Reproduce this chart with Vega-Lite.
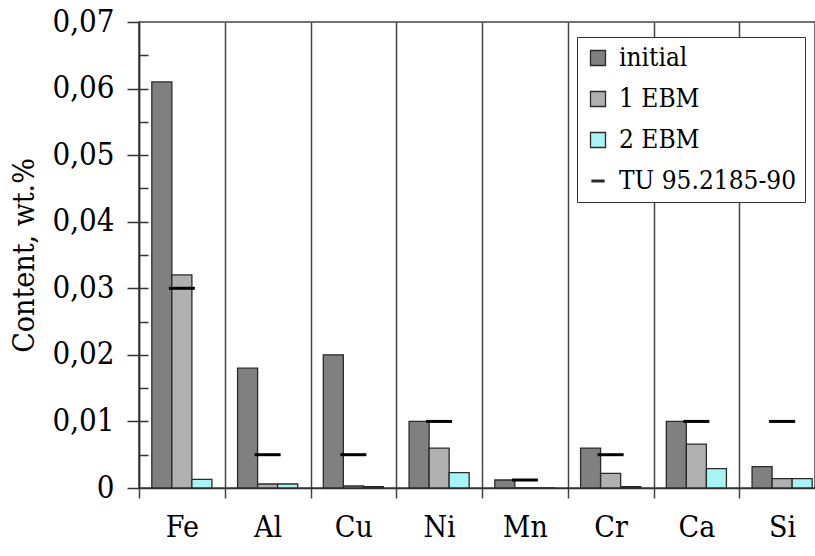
{
  "$schema": "https://vega.github.io/schema/vega-lite/v6.json",
  "width": 676,
  "height": 466,
  "autosize": {"type": "none"},
  "padding": {"left": 139, "top": 22, "right": 0, "bottom": 68},
  "background": "white",
  "config": {
    "view": {"stroke": "#444", "strokeWidth": 1.5},
    "axis": {"labelFont": "DejaVu Serif Condensed", "titleFont": "DejaVu Serif Condensed"},
    "legend": {"labelFont": "DejaVu Serif Condensed", "labelLimit": 400}
  },
  "datasets": {
    "bars": [
      {"element": "Fe", "series": "initial", "value": 0.061},
      {"element": "Fe", "series": "1 EBM", "value": 0.032},
      {"element": "Fe", "series": "2 EBM", "value": 0.0013},
      {"element": "Al", "series": "initial", "value": 0.018},
      {"element": "Al", "series": "1 EBM", "value": 0.0006},
      {"element": "Al", "series": "2 EBM", "value": 0.0006},
      {"element": "Cu", "series": "initial", "value": 0.020},
      {"element": "Cu", "series": "1 EBM", "value": 0.0003},
      {"element": "Cu", "series": "2 EBM", "value": 0.0002},
      {"element": "Ni", "series": "initial", "value": 0.010},
      {"element": "Ni", "series": "1 EBM", "value": 0.006},
      {"element": "Ni", "series": "2 EBM", "value": 0.0023},
      {"element": "Mn", "series": "initial", "value": 0.0012},
      {"element": "Mn", "series": "1 EBM", "value": 0},
      {"element": "Mn", "series": "2 EBM", "value": 0},
      {"element": "Cr", "series": "initial", "value": 0.006},
      {"element": "Cr", "series": "1 EBM", "value": 0.0022},
      {"element": "Cr", "series": "2 EBM", "value": 0.0002},
      {"element": "Ca", "series": "initial", "value": 0.010},
      {"element": "Ca", "series": "1 EBM", "value": 0.0066},
      {"element": "Ca", "series": "2 EBM", "value": 0.0029},
      {"element": "Si", "series": "initial", "value": 0.0032},
      {"element": "Si", "series": "1 EBM", "value": 0.0014},
      {"element": "Si", "series": "2 EBM", "value": 0.0014}
    ],
    "tu": [
      {"element": "Fe", "series": "TU 95.2185-90", "pos": "1 EBM", "value": 0.030},
      {"element": "Al", "series": "TU 95.2185-90", "pos": "1 EBM", "value": 0.005},
      {"element": "Cu", "series": "TU 95.2185-90", "pos": "1 EBM", "value": 0.005},
      {"element": "Ni", "series": "TU 95.2185-90", "pos": "1 EBM", "value": 0.010},
      {"element": "Mn", "series": "TU 95.2185-90", "pos": "1 EBM", "value": 0.0012},
      {"element": "Cr", "series": "TU 95.2185-90", "pos": "1 EBM", "value": 0.005},
      {"element": "Ca", "series": "TU 95.2185-90", "pos": "1 EBM", "value": 0.010},
      {"element": "Si", "series": "TU 95.2185-90", "pos": "1 EBM", "value": 0.010}
    ]
  },
  "layer": [
    {
      "data": {"name": "bars"},
      "mark": {"type": "bar", "stroke": "#2a2a2a", "strokeWidth": 1.3},
      "encoding": {
        "x": {
          "field": "element",
          "type": "nominal",
          "sort": null,
          "scale": {
            "domain": ["Fe", "Al", "Cu", "Ni", "Mn", "Cr", "Ca", "Si"],
            "range": [0, 686],
            "paddingInner": 0,
            "paddingOuter": 0
          },
          "axis": {
            "title": null,
            "tickBand": "extent",
            "tickSize": 10,
            "tickWidth": 1.5,
            "tickColor": "#444",
            "grid": true,
            "gridColor": "#444",
            "gridWidth": 1.5,
            "domainColor": "#333",
            "domainWidth": 1.5,
            "labelAngle": 0,
            "labelFontSize": 30,
            "labelColor": "black",
            "labelPadding": 14
          }
        },
        "xOffset": {
          "field": "series",
          "type": "nominal",
          "scale": {"domain": ["initial", "1 EBM", "2 EBM"], "paddingOuter": 0.64, "paddingInner": 0}
        },
        "y": {
          "field": "value",
          "type": "quantitative",
          "scale": {"domain": [0, 0.07], "nice": false},
          "axis": {
            "values": [0, 0.01, 0.02, 0.03, 0.04, 0.05, 0.06, 0.07],
            "labelExpr": "datum.value == 0 ? '0' : replace(format(datum.value, '.2f'), '.', ',')",
            "tickSize": 12,
            "tickWidth": 1.5,
            "tickColor": "#333",
            "domainColor": "#333",
            "domainWidth": 1.5,
            "grid": false,
            "labelFontSize": 31,
            "labelColor": "black",
            "labelPadding": 13,
            "title": "Content, wt.%",
            "titleFontSize": 30,
            "titleFontWeight": "normal",
            "titleColor": "black",
            "titlePadding": 12
          }
        },
        "fill": {
          "field": "series",
          "type": "nominal",
          "scale": {
            "domain": ["initial", "1 EBM", "2 EBM", "TU 95.2185-90"],
            "range": ["#808080", "#b0b0b0", "#a6f4f4", "#000000"]
          },
          "legend": {
            "title": null,
            "orient": "none",
            "legendX": 438,
            "legendY": 15,
            "padding": 8,
            "strokeColor": "#333",
            "fillColor": "white",
            "labelFontSize": 26,
            "labelColor": "black",
            "labelLimit": 400,
            "labelOffset": 8,
            "symbolType": "square",
            "symbolSize": 225,
            "symbolStrokeColor": "#2a2a2a",
            "symbolStrokeWidth": 1.3,
            "rowPadding": 15,
            "encode": {
              "symbols": {
                "update": {
                  "shape": {"signal": "datum.value === 'TU 95.2185-90' ? 'M-0.8,-0.1H0.8V0.1H-0.8Z' : 'square'"},
                  "stroke": {"value": "#2a2a2a"}
                }
              }
            }
          }
        }
      }
    },
    {
      "data": {"name": "tu"},
      "mark": {"type": "tick", "size": 26, "thickness": 3, "opacity": 1},
      "encoding": {
        "x": {"field": "element", "type": "nominal", "sort": null},
        "xOffset": {"field": "pos", "type": "nominal"},
        "y": {
          "field": "value",
          "type": "quantitative",
          "scale": {"domain": [0, 0.07], "nice": false},
          "axis": {
            "orient": "left",
            "values": [0.005, 0.01, 0.015, 0.02, 0.025, 0.03, 0.035, 0.04, 0.045, 0.05, 0.055, 0.06, 0.065],
            "labels": false,
            "domain": false,
            "title": null,
            "grid": false,
            "tickSize": -9,
            "tickWidth": 1.5,
            "tickColor": "#333"
          }
        },
        "fill": {"field": "series", "type": "nominal"}
      }
    }
  ],
  "resolve": {"axis": {"y": "independent"}}
}
